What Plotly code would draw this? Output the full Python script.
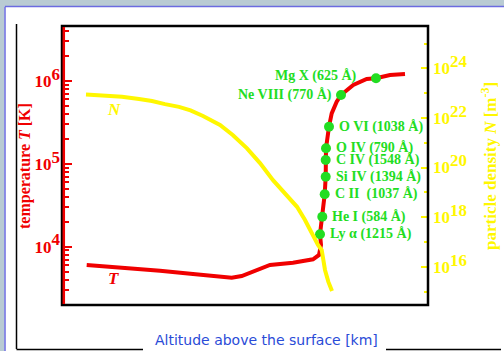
import numpy as np
import plotly.graph_objects as go

# ---------------- data ----------------
# altitude in the chart's own (unlabelled) horizontal units
t_alt = [24.7, 64.7, 98, 131, 154.7, 169.7, 179.7, 191, 208, 231, 251, 257, 259,
         258, 260.3, 262.7, 263.7, 263.7, 264, 267, 269.7, 274.7, 279, 291.3,
         304.7, 314, 328, 343]
t_temp = [6010, 5580, 5130, 4680, 4345, 4225, 4425, 4990, 6010, 6410, 7045, 7940,
          10490, 14120, 23000, 42900, 70000, 111300, 154000, 280800, 407000,
          562000, 678000, 895000, 1.057e6, 1.078e6, 1.18e6, 1.215e6]

n_alt = [24, 40, 60, 77, 90, 103, 117, 128.5, 141, 158, 171, 185, 198, 211, 225,
         235, 243, 251, 256, 259.7, 261.3, 263, 266.3, 270]
n_dens = [8.8e22, 8.1e22, 7.2e22, 5.8e22, 4.8e22, 3.6e22, 2.8e22, 2.0e22, 1.2e22,
          5.2e21, 2.0e21, 5.9e20, 1.5e20, 3.1e19, 7.1e18, 2.6e18, 7.6e17, 1.7e17,
          7.5e16, 4.7e16, 1.9e16, 7.4e15, 2.5e15, 1.05e15]

ion_labels = ["Ly\u00a0α (1215 Å)", "He I (584 Å)", "C II\u00a0\u00a0(1037 Å)",
              "Si IV (1394 Å)", "C IV (1548 Å)", "O IV (790 Å)", "O VI (1038 Å)",
              "Ne VIII (770 Å)", "Mg X (625 Å)"]
ion_alt = [258, 260.3, 262.7, 263.7, 263.7, 264, 267, 279, 314]
ion_temp = [14120, 23000, 42900, 70000, 111300, 154000, 280800, 678000, 1.078e6]

t_tickvals = [1e4, 1e5, 1e6]
t_ticktext = ["4", "5", "6"]
n_tickvals = [1e16, 1e18, 1e20, 1e22, 1e24]
n_ticktext = ["16", "18", "20", "22", "24"]

# ---------------- styling ----------------
RED = "#f00000"
YEL = "#fff700"
GRN = "#22dd22"
SERIF = "Liberation Serif"
W, H = 504, 351
L, R, T, B = 62, 428, 26, 305


def px(x):
    return (x - L) / (R - L)


def py(y):
    return 1 - (y - T) / (B - T)


def sup_text(e, size):
    return "<b>10<sup><span style='font-size:%dpx'>%s</span></sup></b>" % (size, e)


fig = go.Figure()
fig.add_trace(go.Scatter(x=t_alt, y=t_temp, mode="lines",
                         line=dict(color=RED, width=4), yaxis="y",
                         showlegend=False, hoverinfo="skip"))
fig.add_trace(go.Scatter(x=n_alt, y=n_dens, mode="lines",
                         line=dict(color=YEL, width=4), yaxis="y2",
                         showlegend=False, hoverinfo="skip"))
fig.add_trace(go.Scatter(x=ion_alt, y=ion_temp, mode="markers",
                         marker=dict(color=GRN, size=10), yaxis="y",
                         showlegend=False, hoverinfo="skip"))

minor_t = [m * 10 ** d for d in range(3, 7) for m in range(2, 10)]
minor_n = [10.0 ** d for d in range(15, 26, 2)]

fig.update_layout(
    width=W, height=H,
    margin=dict(l=L, r=W - R, t=T, b=H - B, pad=0, autoexpand=False),
    paper_bgcolor="white", plot_bgcolor="white",
    xaxis=dict(range=[0, R - L], showticklabels=False, showgrid=False,
               zeroline=False, ticks="", showline=False, automargin=False),
    yaxis=dict(type="log", range=[3.296, 6.664], showgrid=False, zeroline=False,
               tickvals=t_tickvals, automargin=False,
               ticktext=[sup_text(e, 17) for e in t_ticktext],
               ticks="inside", ticklen=10, tickwidth=2, tickcolor=RED,
               tickfont=dict(family=SERIF, size=17, color=RED),
               ticklabelstandoff=1,
               minor=dict(tickvals=minor_t, ticks="inside", ticklen=7,
                          tickwidth=2, tickcolor=RED, showgrid=False),
               showline=False),
    yaxis2=dict(type="log", range=[14.456, 25.706], overlaying="y", side="right",
                showgrid=False, zeroline=False, automargin=False,
                tickvals=n_tickvals,
                ticktext=[sup_text(e, 17) for e in n_ticktext],
                ticks="inside", ticklen=7, tickwidth=2, tickcolor=YEL,
                tickfont=dict(family=SERIF, size=17, color=YEL),
                ticklabelstandoff=4,
                minor=dict(tickvals=minor_n, ticks="inside", ticklen=4,
                           tickwidth=2, tickcolor=YEL, showgrid=False),
                showline=False),
)

shapes = [
    # slide frame
    dict(type="rect", xref="paper", yref="paper", x0=px(0), x1=px(W), y0=py(0), y1=py(6),
         fillcolor="#b9cbd3", line=dict(width=0), layer="above"),
    dict(type="rect", xref="paper", yref="paper", x0=px(0), x1=px(4.5), y0=py(0), y1=py(H),
         fillcolor="#b9cbd3", line=dict(width=0), layer="above"),
    dict(type="line", xref="paper", yref="paper", x0=px(5), x1=px(W), y0=py(6.5), y1=py(6.5),
         line=dict(color="#6b6be0", width=1.5), layer="above"),
    dict(type="line", xref="paper", yref="paper", x0=px(5), x1=px(5), y0=py(6.5), y1=py(H),
         line=dict(color="#6b6be0", width=1.5), layer="above"),
    # black guide lines
    dict(type="line", xref="paper", yref="paper", x0=px(16.5), x1=px(16.5), y0=py(24), y1=py(349),
         line=dict(color="black", width=1.5), layer="above"),
    dict(type="line", xref="paper", yref="paper", x0=px(16.5), x1=px(143), y0=py(349.5), y1=py(349.5),
         line=dict(color="black", width=1.5), layer="above"),
    dict(type="line", xref="paper", yref="paper", x0=px(386), x1=px(501), y0=py(349.5), y1=py(349.5),
         line=dict(color="black", width=1.5), layer="above"),
    # plot box
    dict(type="rect", xref="paper", yref="paper", x0=0, x1=1, y0=0, y1=1,
         line=dict(color="black", width=2.5), layer="above"),
    dict(type="line", xref="paper", yref="paper", x0=px(63.8), x1=px(63.8), y0=py(304), y1=py(27),
         line=dict(color=RED, width=2.5), layer="above"),
]
fig.update_layout(shapes=shapes)

ann = []
for i, (lab, a, tv) in enumerate(zip(ion_labels, ion_alt, ion_temp)):
    if i == len(ion_labels) - 1:
        xa, xs, ys = "right", -17, 2
    elif i == len(ion_labels) - 2:
        xa, xs, ys = "right", -7, 0
    else:
        xa, xs, ys = "left", 8, 0
    ann.append(dict(x=a, y=np.log10(tv), xref="x", yref="y", text="<b>%s</b>" % lab,
                    showarrow=False, xanchor=xa, yanchor="middle", xshift=xs, yshift=ys,
                    font=dict(family=SERIF, size=14, color=GRN)))

common = dict(xref="paper", yref="paper", showarrow=False, xanchor="center", yanchor="middle")
ann += [
    dict(x=px(25), y=py(166), textangle=-90,
         text="<b>temperature <i>T</i> [K]</b>",
         font=dict(family=SERIF, size=16, color=RED), **common),
    dict(x=px(489), y=py(166), textangle=-90,
         text="<b>particle density <i>N</i> [m<sup>-3</sup>]</b>",
         font=dict(family=SERIF, size=17, color=YEL), **common),
    dict(x=px(114), y=py(109),
         text="<b><i>N</i></b>",
         font=dict(family=SERIF, size=17, color=YEL), **common),
    dict(x=px(113), y=py(278),
         text="<b><i>T</i></b>",
         font=dict(family=SERIF, size=17, color=RED), **common),
    dict(x=px(266), y=py(340),
         text="Altitude above the surface [km]",
         font=dict(family="DejaVu Sans", size=14, color="#2a4bd7"), **common),
]
fig.update_layout(annotations=ann)

fig.write_html("out.html", config={"displayModeBar": False},
               post_script="document.body.style.margin='0';document.body.style.overflow='hidden';")
